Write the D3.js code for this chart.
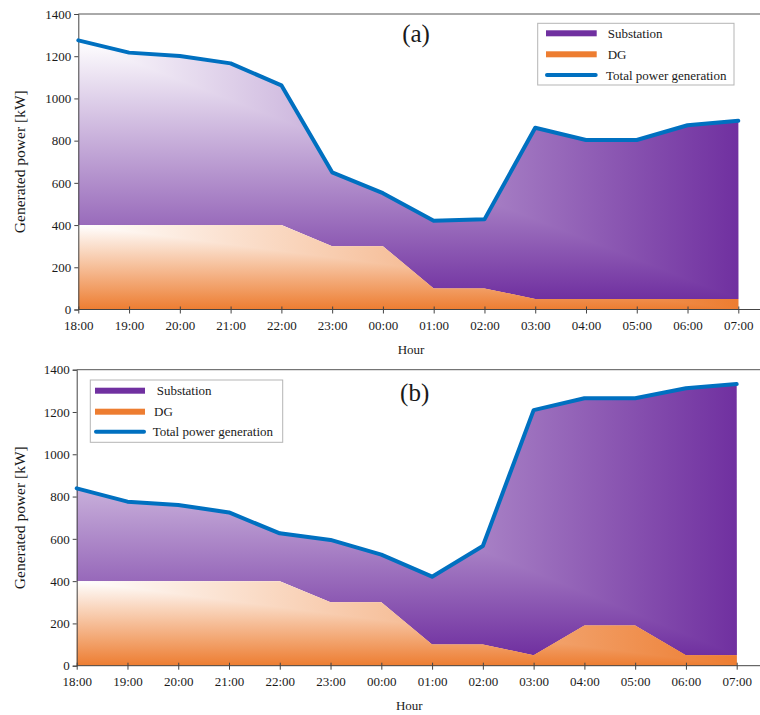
<!DOCTYPE html>
<html>
<head>
<meta charset="utf-8">
<script src="https://cdn.jsdelivr.net/npm/d3@7"></script>
<style>
  html, body { margin: 0; padding: 0; background: #fff; }
  svg { display: block; }
  text { font-family: "Liberation Serif", "Times New Roman", serif; fill: #1a1a1a; }
</style>
</head>
<body>
<div id="chart"></div>
<script>
// ---------- data ----------
const hours = ["18:00","19:00","20:00","21:00","22:00","23:00","00:00","01:00","02:00","03:00","04:00","05:00","06:00","07:00"];
const yTicks = [0, 200, 400, 600, 800, 1000, 1200, 1400];

// panel (a)
const dgA    = [400, 400, 400, 400, 400, 300, 300, 100, 100, 50, 50, 50, 50, 50];
const totalA = [1275, 1217, 1201, 1166, 1062, 650, 551, 421, 427, 861, 803, 803, 873, 894];

// panel (b)
const dgB    = [400, 400, 400, 400, 400, 300, 300, 100, 100, 50, 190, 190, 50, 50];
const totalB = [839, 776, 760, 725, 626, 595, 525, 421, 566, 1209, 1265, 1265, 1312, 1332];

const legendLabels = ["Substation", "DG", "Total power generation"];
const colors = { sub: "#7030A0", dg: "#ED7D31", total: "#0070C0" };

// ---------- layout ----------
const W = 760, H = 715;
const panels = [
  { id: "a", label: "(a)", dg: dgA, total: totalA,
    x0: 78.3, x1: 738.3, yTop: 14, yBot: 309.5, right: 760,
    labelX: 416, labelY: 42, tickY: 330, hourX: 411, hourY: 354, titleX: 25,
    legend: { x: 537.7, y: 23.3, w: 196.3, h: 61.7, sx0: 546, sx1: 596.7, rows: [33.3, 54.3, 75], tx: [607.7, 607.7, 606] } },
  { id: "b", label: "(b)", dg: dgB, total: totalB,
    x0: 76.7, x1: 736.7, yTop: 369.7, yBot: 665.7, right: 760,
    labelX: 414.7, labelY: 401, tickY: 686, hourX: 409.3, hourY: 710, titleX: 24.5,
    legend: { x: 90.3, y: 380, w: 192.4, h: 62.3, sx0: 95, sx1: 145, rows: [390.7, 411.7, 431.7], tx: [156.7, 154, 152.7] } }
];

const svg = d3.select("#chart").append("svg").attr("width", W).attr("height", H);
const defs = svg.append("defs");

function linGrad(id, x1, y1, x2, y2, color) {
  const g = defs.append("linearGradient").attr("id", id)
    .attr("gradientUnits", "userSpaceOnUse")
    .attr("x1", x1).attr("y1", y1).attr("x2", x2).attr("y2", y2);
  g.append("stop").attr("offset", 0).attr("stop-color", "#ffffff");
  g.append("stop").attr("offset", 1).attr("stop-color", color);
}

panels.forEach(p => {
  const n = hours.length;
  const x = d3.scaleLinear().domain([0, n - 1]).range([p.x0, p.x1]);
  const y = d3.scaleLinear().domain([0, 1400]).range([p.yBot, p.yTop]);
  const g = svg.append("g");

  // gradients (rectangular gradient from the top-left corner: vertical + horizontal, darken)
  const dgMax = d3.max(p.dg);
  linGrad("dgV" + p.id, 0, y(dgMax), 0, y(0), colors.dg);
  linGrad("dgH" + p.id, x(0), 0, x(n - 1), 0, colors.dg);
  linGrad("subV" + p.id, 0, y(d3.max(p.total)), 0, y(d3.min(p.dg)), colors.sub);
  linGrad("subH" + p.id, x(0), 0, x(n - 1), 0, colors.sub);

  const dgArea = d3.area().x((d, i) => x(i)).y0(y(0)).y1(d => y(d));
  const subArea = d3.area().x((d, i) => x(i)).y0((d, i) => y(p.dg[i])).y1(d => y(d));

  const gs = g.append("g").style("isolation", "isolate");
  gs.append("path").attr("d", subArea(p.total)).attr("fill", `url(#subV${p.id})`);
  gs.append("path").attr("d", subArea(p.total)).attr("fill", `url(#subH${p.id})`).style("mix-blend-mode", "darken");

  const gd = g.append("g").style("isolation", "isolate");
  gd.append("path").attr("d", dgArea(p.dg)).attr("fill", `url(#dgV${p.id})`);
  gd.append("path").attr("d", dgArea(p.dg)).attr("fill", `url(#dgH${p.id})`).style("mix-blend-mode", "darken");

  // axes frame
  g.append("line").attr("x1", p.x0).attr("x2", p.right).attr("y1", p.yTop).attr("y2", p.yTop)
    .attr("stroke", "#555").attr("stroke-width", 1);

  // y axis
  const yAxis = d3.axisLeft(y).tickValues(yTicks).tickSize(4).tickPadding(3).tickFormat(d3.format("d"));
  const ya = g.append("g").attr("transform", `translate(${p.x0},0)`).call(yAxis);
  ya.select(".domain").attr("stroke", "#444");
  ya.selectAll(".tick line").attr("stroke", "#444");
  ya.selectAll("text").attr("font-size", 13).attr("font-family", "Liberation Serif, Times New Roman, serif").attr("fill", "#1a1a1a");

  // x axis
  const xAxis = d3.axisBottom(x).tickValues(d3.range(n)).tickFormat(i => hours[i]).tickSize(4).tickPadding(0);
  const xa = g.append("g").attr("transform", `translate(0,${p.yBot})`).call(xAxis);
  xa.select(".domain").remove();
  xa.append("line").attr("x1", p.x0).attr("x2", p.right).attr("y1", 0).attr("y2", 0).attr("stroke", "#444");
  xa.selectAll(".tick line").attr("y1", -3).attr("y2", 4).attr("stroke", "#444");
  xa.selectAll(".tick text").attr("y", p.tickY - p.yBot).attr("dy", 0)
    .attr("font-size", 13).attr("font-family", "Liberation Serif, Times New Roman, serif").attr("fill", "#1a1a1a");

  // total line
  const line = d3.line().x((d, i) => x(i)).y(d => y(d));
  g.append("path").attr("d", line(p.total)).attr("fill", "none")
    .attr("stroke", colors.total).attr("stroke-width", 4)
    .attr("stroke-linejoin", "round").attr("stroke-linecap", "round");

  // axis titles
  g.append("text").attr("x", p.hourX).attr("y", p.hourY).attr("text-anchor", "middle")
    .attr("font-size", 13).text("Hour");
  g.append("text").attr("transform", `translate(${p.titleX},${(p.yTop + p.yBot) / 2}) rotate(-90)`)
    .attr("text-anchor", "middle").attr("font-size", 15.5).text("Generated power [kW]");

  // panel label
  g.append("text").attr("x", p.labelX).attr("y", p.labelY).attr("text-anchor", "middle")
    .attr("font-size", 25).attr("fill", "#000").text(p.label);

  // legend
  const L = p.legend;
  const lg = g.append("g");
  lg.append("rect").attr("x", L.x).attr("y", L.y).attr("width", L.w).attr("height", L.h)
    .attr("fill", "#fff").attr("stroke", "#b5b5b5").attr("stroke-width", 1);
  lg.append("rect").attr("x", L.sx0).attr("y", L.rows[0] - 3).attr("width", L.sx1 - L.sx0).attr("height", 6).attr("fill", colors.sub);
  lg.append("rect").attr("x", L.sx0).attr("y", L.rows[1] - 3).attr("width", L.sx1 - L.sx0).attr("height", 6).attr("fill", colors.dg);
  lg.append("line").attr("x1", L.sx0 + 1).attr("x2", L.sx1 - 1).attr("y1", L.rows[2]).attr("y2", L.rows[2])
    .attr("stroke", colors.total).attr("stroke-width", 4).attr("stroke-linecap", "round");
  legendLabels.forEach((t, i) => {
    lg.append("text").attr("x", L.tx[i]).attr("y", L.rows[i] + 4.5).attr("font-size", 13).text(t);
  });
});
</script>
</body>
</html>
